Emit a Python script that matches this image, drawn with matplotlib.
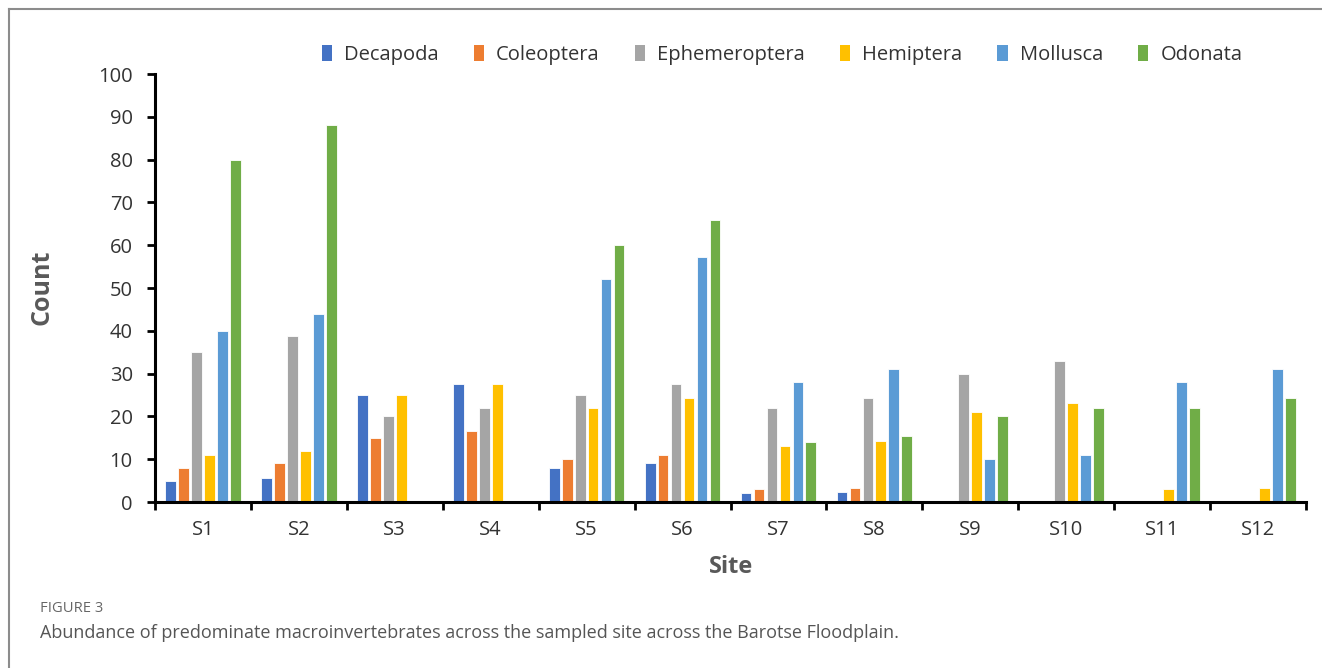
import matplotlib
matplotlib.use("Agg")
import matplotlib.pyplot as plt
import numpy as np
from matplotlib.lines import Line2D
from matplotlib.patches import Patch

sites = ["S1", "S2", "S3", "S4", "S5", "S6", "S7", "S8", "S9", "S10", "S11", "S12"]
decapoda      = [5, 5.5, 25, 27.5, 8, 9, 2, 2.3, 0, 0, 0, 0]
coleoptera    = [8, 9, 15, 16.7, 10, 11, 3, 3.2, 0, 0, 0, 0]
ephemeroptera = [35, 38.7, 20, 22, 25, 27.5, 22, 24.3, 30, 33, 0, 0]
hemiptera     = [11, 12, 25, 27.5, 22, 24.3, 13, 14.3, 21, 23.2, 3, 3.3]
mollusca      = [40, 44, 0, 0, 52, 57.2, 28, 31, 10, 11, 28, 31]
odonata       = [80, 88, 0, 0, 60, 66, 14, 15.5, 20, 22, 22, 24.3]
series_names = ["Decapoda", "Coleoptera", "Ephemeroptera", "Hemiptera", "Mollusca", "Odonata"]
yticks = list(range(0, 101, 10))

series = [decapoda, coleoptera, ephemeroptera, hemiptera, mollusca, odonata]
colors = ["#4472C4", "#ED7D31", "#A5A5A5", "#FFC000", "#5B9BD5", "#70AD47"]

W, H = 1322, 668
fig = plt.figure(figsize=(W / 100, H / 100), dpi=100)
ax = fig.add_axes([155 / W, 1 - 502 / H, (1306 - 155) / W, (502 - 74) / H])

font = "Open Sans"
tc = "#333333"
x = np.arange(len(sites))
slot = 0.135
bw = 0.112
for i, (vals, c) in enumerate(zip(series, colors)):
    ax.bar(x + (i - 2.5) * slot, vals, width=bw, color=c, edgecolor="white",
           linewidth=0.6, zorder=2)

ax.set_xlim(-0.5, len(sites) - 0.5)
ax.set_ylim(0, 100)
ax.set_yticks(yticks)
ax.set_yticklabels([str(t) for t in yticks], fontsize=14.5, color=tc, family=font)
ax.set_xticks(x)
ax.set_xticklabels(sites, fontsize=14.5, color=tc, family=font)
ax.set_xticks(np.arange(-0.5, len(sites), 1), minor=True)
ax.tick_params(axis="x", which="major", length=0, pad=13)
ax.tick_params(axis="x", which="minor", length=6, width=2, direction="out", color="black")
ax.tick_params(axis="y", which="major", length=6, width=2, direction="out", color="black", pad=10)
for s in ["top", "right"]:
    ax.spines[s].set_visible(False)
for s in ["left", "bottom"]:
    ax.spines[s].set_linewidth(2.2)
    ax.spines[s].set_color("black")

fig.text(42 / W, 1 - 287 / H, "Count", rotation=90, ha="center", va="center",
         fontsize=18, fontweight="bold", color="#595959", family=font)
fig.text(731 / W, 1 - 567 / H, "Site", ha="center", va="center",
         fontsize=17, fontweight="bold", color="#595959", family=font)

handles = [Patch(facecolor=c, edgecolor="none") for c in colors]
fig.legend(handles, series_names, loc="center", bbox_to_anchor=(782 / W, 1 - 55 / H),
           ncol=6, frameon=False, handlelength=0.5, handleheight=0.8,
           handletextpad=0.6, columnspacing=1.75,
           prop={"family": font, "size": 14.5})
for t in fig.legends[0].get_texts():
    t.set_color(tc)

# figure frame lines (top and left)
fig.add_artist(Line2D([9 / W, 1], [1 - 9 / H, 1 - 9 / H], color="#8c8c8c", linewidth=1.5))
fig.add_artist(Line2D([9 / W, 9 / W], [0, 1 - 9 / H], color="#8c8c8c", linewidth=1.5))

fig.text(40 / W, 1 - 609 / H, "FIGURE 3", ha="left", va="center",
         fontsize=10.6, color="#666666", family=font)
fig.text(40 / W, 1 - 633 / H,
         "Abundance of predominate macroinvertebrates across the sampled site across the Barotse Floodplain.",
         ha="left", va="center", fontsize=13, color="#555555", family=font)

fig.savefig("out.png", dpi=100, facecolor="white")
